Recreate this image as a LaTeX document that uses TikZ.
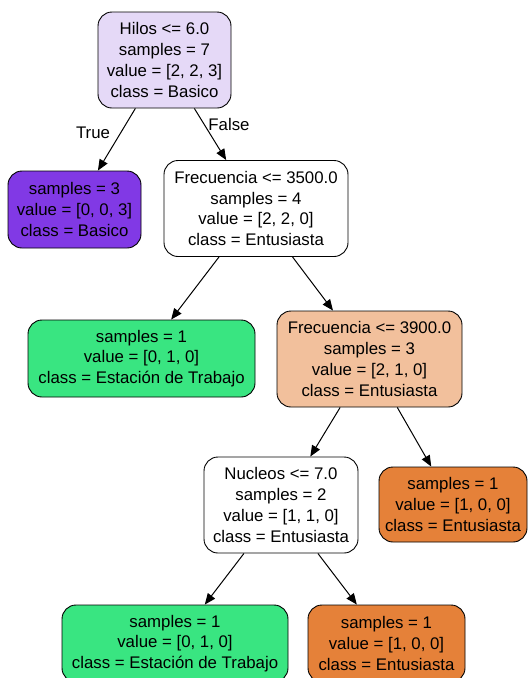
\documentclass[tikz,border=0pt]{standalone}
\usepackage{fontspec}
\setmainfont{Liberation Sans}
\usetikzlibrary{arrows.meta}
\definecolor{rootfill}{HTML}{E5D9F7}
\definecolor{basicofill}{HTML}{8139E5}
\definecolor{trabajofill}{HTML}{39E581}
\definecolor{peachfill}{HTML}{F2C09C}
\definecolor{entufill}{HTML}{E58139}
\tikzset{
  treenode/.style={draw, rounded corners=14pt, align=center, line width=0.9pt,
    font=\fontsize{16.8}{20.8}\selectfont, inner sep=3pt, minimum height=77pt},
  splitnode/.style={treenode, minimum height=96pt},
  branch/.style={-{Triangle[length=11pt,width=9pt]}, line width=1pt},
  branchlabel/.style={font=\fontsize{16.8}{20}\selectfont}
}

\begin{document}
\begin{tikzpicture}[x=1pt,y=-1pt]
  \useasboundingbox (0,0) rectangle (530,678);
  \node[splitnode, fill=rootfill, minimum width=133pt] (hilos) at (164.5,60)
    {Hilos <= 6.0\\samples = 7\\value = [2, 2, 3]\\class = Basico};
  \node[treenode, fill=basicofill, minimum width=133pt] (basico) at (74.5,209.5)
    {samples = 3\\value = [0, 0, 3]\\class = Basico};
  \node[splitnode, fill=white, minimum width=184pt] (frecA) at (256,208.5)
    {Frecuencia <= 3500.0\\samples = 4\\value = [2, 2, 0]\\class = Entusiasta};
  \node[treenode, fill=trabajofill, minimum width=227pt] (trabajoA) at (141.5,358.5)
    {samples = 1\\value = [0, 1, 0]\\class = Estación de Trabajo};
  \node[splitnode, fill=peachfill, minimum width=185pt] (frecB) at (369.5,359)
    {Frecuencia <= 3900.0\\samples = 3\\value = [2, 1, 0]\\class = Entusiasta};
  \node[splitnode, fill=white, minimum width=154pt] (nucleos) at (281,505)
    {Nucleos <= 7.0\\samples = 2\\value = [1, 1, 0]\\class = Entusiasta};
  \node[treenode, fill=entufill, minimum width=148pt, minimum height=75pt] (entuA) at (453,504.5)
    {samples = 1\\value = [1, 0, 0]\\class = Entusiasta};
  \node[treenode, fill=trabajofill, minimum width=226pt] (trabajoB) at (175,643.5)
    {samples = 1\\value = [0, 1, 0]\\class = Estación de Trabajo};
  \node[treenode, fill=entufill, minimum width=157pt] (entuB) at (386.5,643.5)
    {samples = 1\\value = [1, 0, 0]\\class = Entusiasta};

  \draw[branch] (hilos) -- (basico);
  \draw[branch] (hilos) -- (frecA);
  \draw[branch] (frecA) -- (trabajoA);
  \draw[branch] (frecA) -- (frecB);
  \draw[branch] (frecB) -- (nucleos);
  \draw[branch] (frecB) -- (entuA);
  \draw[branch] (nucleos) -- (trabajoB);
  \draw[branch] (nucleos) -- (entuB);

  \node[branchlabel] (truelbl) at (93,133) {True};
  \node[branchlabel] (falselbl) at (229,124) {False};
\end{tikzpicture}
\end{document}
